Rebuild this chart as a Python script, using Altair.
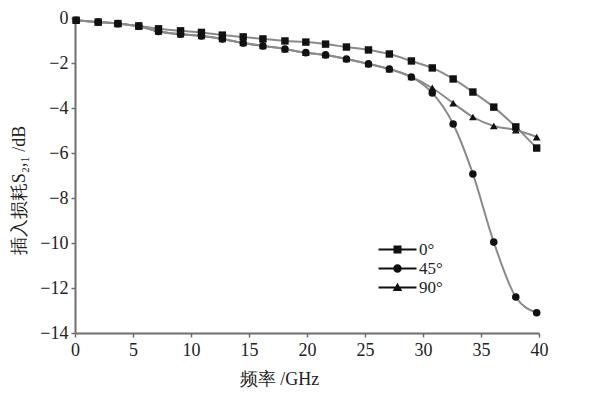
import altair as alt
import pandas as pd

# ---- data ----
freq = [0.1, 2.0, 3.7, 5.5, 7.2, 9.1, 10.9, 12.7, 14.5, 16.2, 18.1, 19.9,
        21.6, 23.4, 25.3, 27.1, 29.0, 30.8, 32.6, 34.3, 36.1, 38.0, 39.8]
loss_0 = [-0.10, -0.18, -0.25, -0.35, -0.48, -0.57, -0.64, -0.76, -0.84, -0.93, -1.02, -1.07,
          -1.16, -1.29, -1.42, -1.60, -1.91, -2.22, -2.71, -3.29, -3.96, -4.84, -5.78]
loss_45 = [-0.10, -0.18, -0.25, -0.37, -0.60, -0.72, -0.80, -0.93, -1.11, -1.24, -1.38, -1.54,
           -1.64, -1.82, -2.04, -2.27, -2.62, -3.33, -4.71, -6.93, -9.96, -12.40, -13.10]
loss_90 = [-0.10, -0.18, -0.25, -0.37, -0.60, -0.72, -0.80, -0.93, -1.11, -1.24, -1.38, -1.54,
           -1.64, -1.82, -2.04, -2.27, -2.62, -3.11, -3.78, -4.40, -4.80, -4.98, -5.29]
series_names = ["0°", "45°", "90°"]
x_tick_values = [0, 2.5, 5, 7.5, 10, 12.5, 15, 17.5, 20, 22.5, 25, 27.5, 30, 32.5, 35, 37.5, 40]
y_tick_values = [0, -1, -2, -3, -4, -5, -6, -7, -8, -9, -10, -11, -12, -13, -14]

rows = []
for name, vals in zip(series_names, [loss_0, loss_45, loss_90]):
    for f, v in zip(freq, vals):
        rows.append({"freq": f, "loss": v, "series": name})
df = pd.DataFrame(rows)

serif = "Times New Roman, Liberation Serif, serif"
axis_common = dict(
    grid=False, domainColor="#6e6e6e", domainWidth=2, tickColor="#6e6e6e",
    tickWidth=1.5, tickSize=4, labelFont=serif, labelFontSize=18, labelColor="#222",
    titleFont=serif, titleFontSize=18, titleFontWeight="normal", titleColor="#222",
    labelOverlap=False, labelFlush=False,
)

x_enc = alt.X(
    "freq:Q",
    scale=alt.Scale(domain=[0, 40], nice=False, zero=False),
    axis=alt.Axis(
        values=x_tick_values,
        labelExpr="datum.value % 5 == 0 ? format(datum.value, 'd') : ''",
        title="频率 /GHz", labelPadding=4,
        titleX=204, titleY=51, titleBaseline="alphabetic", titleAnchor="middle",
        **axis_common,
    ),
)
y_enc = alt.Y(
    "loss:Q",
    scale=alt.Scale(domain=[-14, 0], nice=False, zero=False),
    axis=alt.Axis(
        values=y_tick_values,
        labelExpr="datum.value % 2 == 0 ? format(datum.value, 'd') : ''",
        title="插入损耗S₂,₁ /dB", labelPadding=3,
        titleX=-47, titleY=172, titleBaseline="bottom", titleAnchor="middle", titleAngle=270,
        **axis_common,
    ),
)

lines = alt.Chart(df).mark_line(
    interpolate="monotone", color="#8a8a8a", strokeWidth=2
).encode(x=x_enc, y=y_enc, detail="series:N")

points = alt.Chart(df).mark_point(filled=True, opacity=1, color="#111").encode(
    x="freq:Q", y="loss:Q",
    shape=alt.Shape("series:N", scale=alt.Scale(domain=series_names,
                                                range=["square", "circle", "triangle-up"]),
                    legend=None),
    size=alt.Size("series:N", scale=alt.Scale(domain=series_names, range=[55, 60, 70]),
                  legend=None),
)

bar = "M-3.8,-0.2H3.8V0.2H-3.8Z "
legend_shapes = [
    bar + "M-0.8,-0.8H0.8V0.8H-0.8Z",
    bar + "M0.85,0A0.85,0.85 0 1,1 -0.85,0A0.85,0.85 0 1,1 0.85,0Z",
    bar + "M0,-0.95L0.95,0.7L-0.95,0.7Z",
]

legend_layer = alt.Chart(df).mark_point(filled=True, opacity=0, color="#111").encode(
    x="freq:Q", y="loss:Q",
    shape=alt.Shape(
        "series:N",
        scale=alt.Scale(domain=series_names, range=legend_shapes),
        legend=alt.Legend(
            title=None, orient="none", legendX=314, legendY=223,
            symbolSize=100, symbolFillColor="#111", symbolStrokeWidth=0,
            symbolOpacity=1, labelFont=serif, labelFontSize=17, labelColor="#222",
            labelOffset=13, rowPadding=1, padding=0,
        ),
    ),
)

chart = alt.layer(lines, points, legend_layer).resolve_scale(
    shape="independent", size="independent"
).properties(
    width=464, height=315,
    autosize=alt.AutoSizeParams(type="none"),
    padding={"left": 67, "top": 10, "right": 45, "bottom": 60},
).configure_view(stroke=None)

chart.save("out.html", embed_options={"renderer": "svg", "actions": False})
